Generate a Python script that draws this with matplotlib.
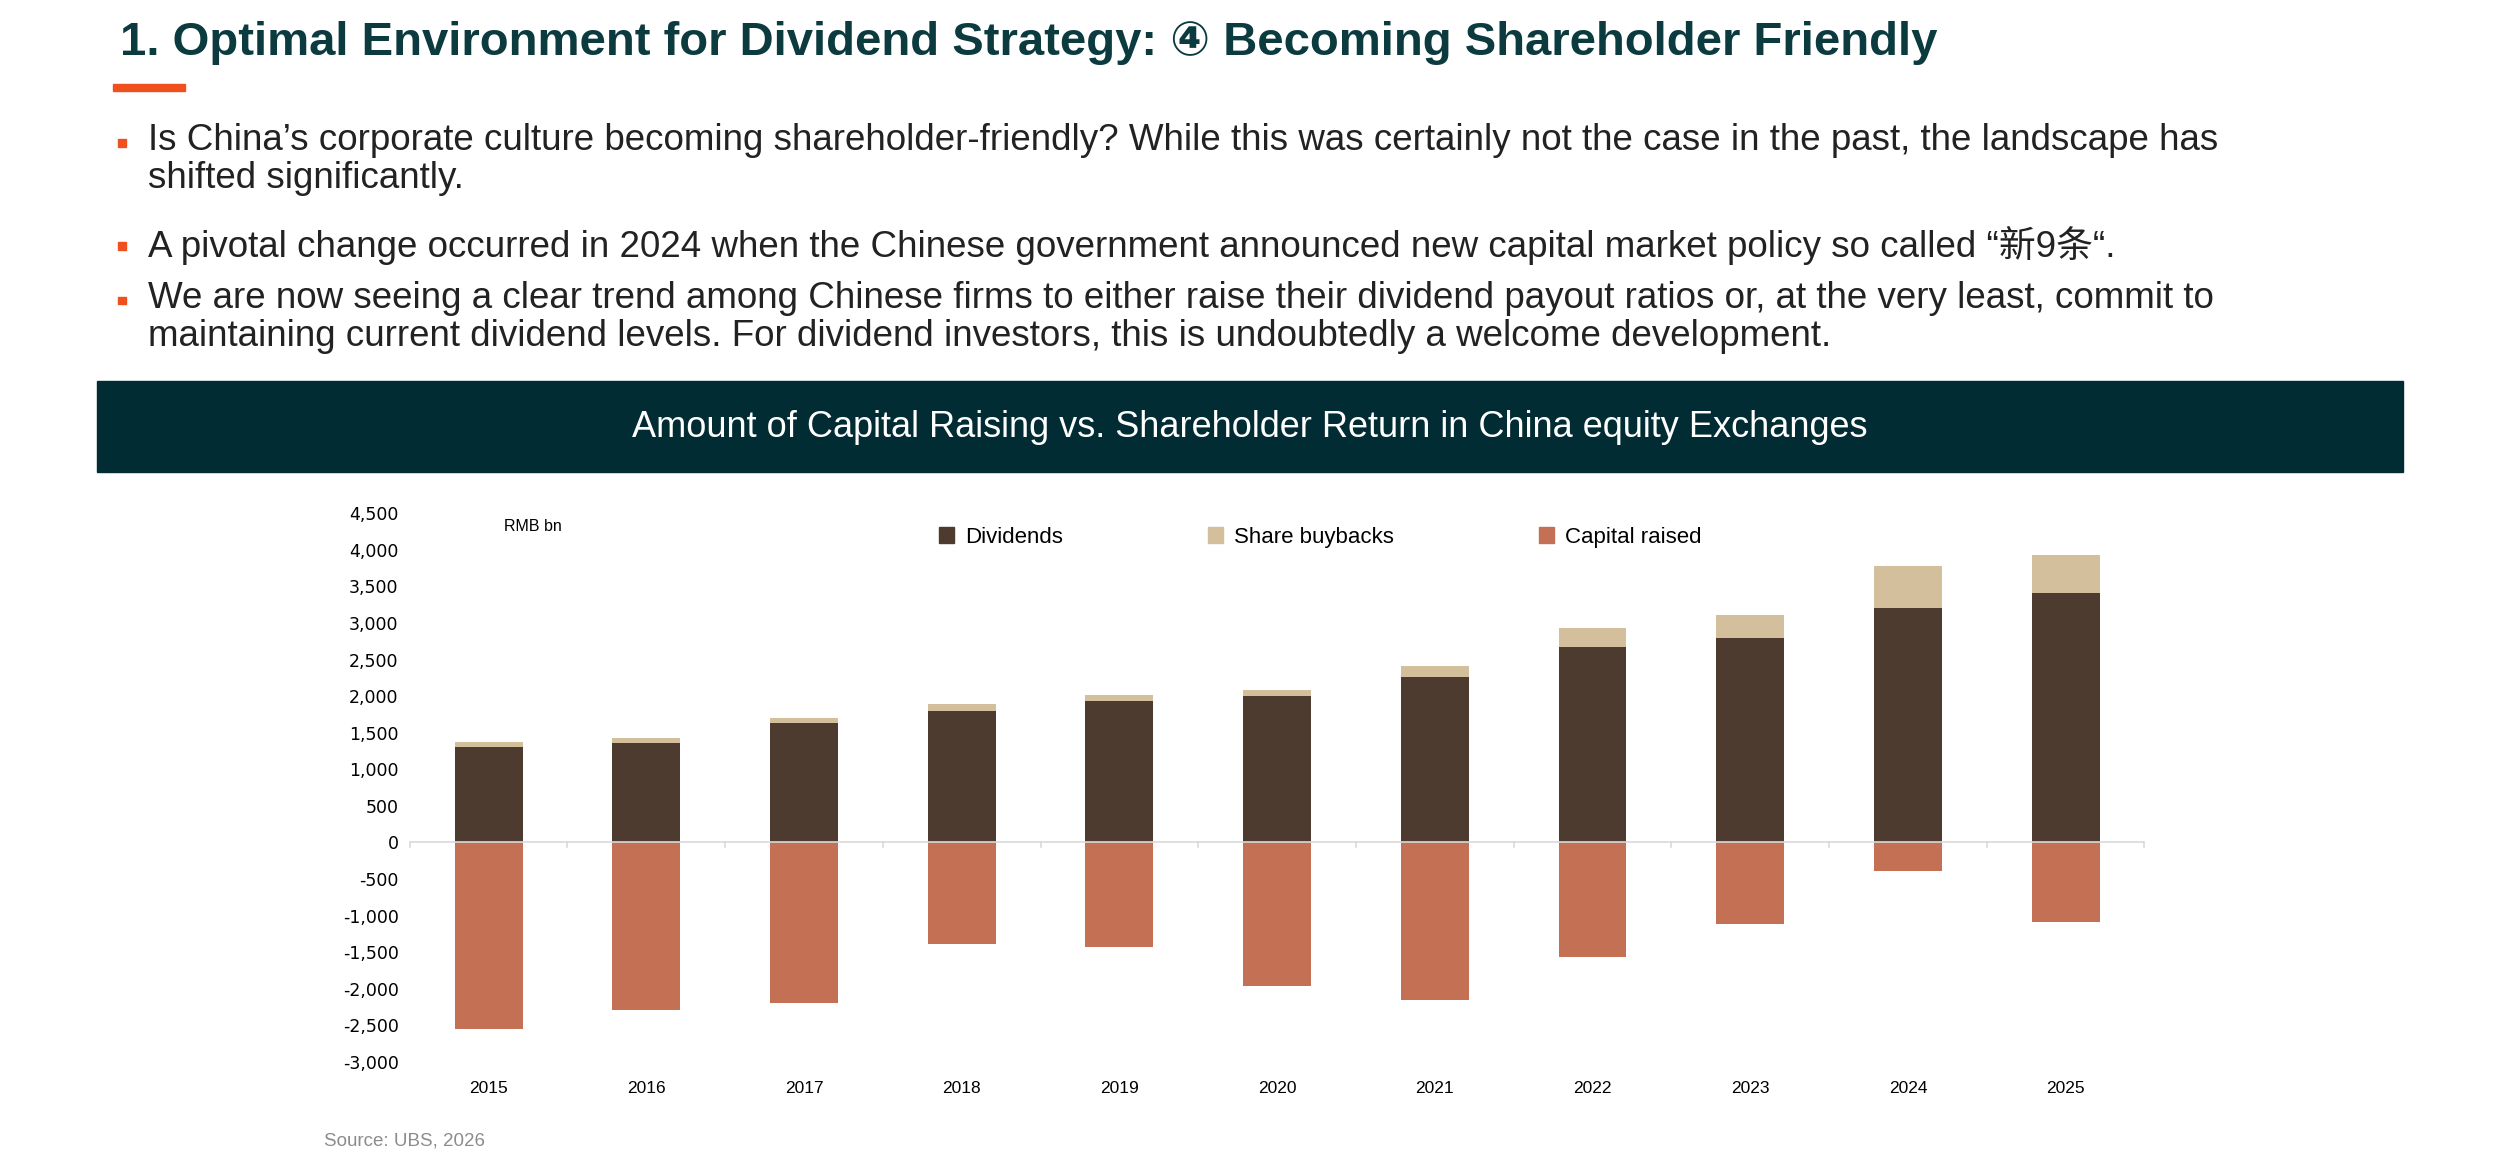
import matplotlib
matplotlib.use("Agg")
import matplotlib.pyplot as plt
from matplotlib.patches import Rectangle, Patch
from matplotlib.ticker import FuncFormatter
import numpy as np

years = ["2015","2016","2017","2018","2019","2020","2021","2022","2023","2024","2025"]
dividends = [1300, 1360, 1630, 1800, 1935, 2000, 2260, 2670, 2800, 3200, 3410]
buybacks = [70, 70, 70, 90, 85, 90, 150, 260, 310, 580, 525]
capital_raised = [-2550, -2290, -2200, -1390, -1430, -1960, -2160, -1565, -1120, -390, -1090]

FAM = ['Liberation Sans', 'DejaVu Sans', 'Noto Sans CJK SC']
W, H = 1568, 727
fig = plt.figure(figsize=(25, 11.59), dpi=100)

def fx(x): return x / W
def fy(y): return 1 - y / H

fig.text(fx(75), fy(27), "1. Optimal Environment for Dividend Strategy: ④ Becoming Shareholder Friendly",
         family=FAM, fontsize=34, fontweight='bold', color='#0B3A3F', va='center')
fig.add_artist(Rectangle((fx(71), fy(57)), fx(45), 4 / H, color='#F0501E', transform=fig.transFigure))

bullets = [
    (88, "Is China’s corporate culture becoming shareholder-friendly? While this was certainly not the case in the past, the landscape has\nshifted significantly."),
    (153, "A pivotal change occurred in 2024 when the Chinese government announced new capital market policy so called “新9条“."),
    (187, "We are now seeing a clear trend among Chinese firms to either raise their dividend payout ratios or, at the very least, commit to\nmaintaining current dividend levels. For dividend investors, this is undoubtedly a welcome development."),
]
for y, t in bullets:
    fig.add_artist(Rectangle((fx(74), fy(y + 4)), 5 / W, 5 / H, color='#F0501E', transform=fig.transFigure))
    fig.text(fx(93), fy(y - 11), t, family=FAM, fontsize=26.5, color='#222222', va='top', linespacing=1.12)

fig.add_artist(Rectangle((fx(61), fy(296)), fx(1507 - 61), (296 - 239) / H, color='#022C33', transform=fig.transFigure))
fig.text(fx(784), fy(268), "Amount of Capital Raising vs. Shareholder Return in China equity Exchanges",
         family=FAM, fontsize=26, color='white', ha='center', va='center')

ax = fig.add_axes([fx(257), fy(666), fx(1345 - 257), (666 - 322) / H])
x = np.arange(len(years))
c_div, c_bb, c_cap = '#4E3B30', '#D3BF9B', '#C47055'
ax.bar(x, dividends, width=0.43, color=c_div)
ax.bar(x, buybacks, width=0.43, bottom=dividends, color=c_bb)
ax.bar(x, capital_raised, width=0.43, color=c_cap)
ax.set_xlim(-0.5, len(years) - 0.5)
ax.set_ylim(-3000, 4500)
ax.set_yticks(range(-3000, 4501, 500))
ax.yaxis.set_major_formatter(FuncFormatter(lambda v, p: f"{int(v):,}"))
for s in ax.spines.values():
    s.set_visible(False)
ax.tick_params(axis='y', length=0, labelsize=12.5, pad=8)
ax.tick_params(axis='x', length=0)
ax.set_xticks([])
ax.axhline(0, color='#D9D9D9', lw=1.2)
for b in np.arange(-0.5, len(years), 1.0):
    ax.plot([b, b], [0, -60], color='#D9D9D9', lw=1.2, clip_on=False)
for i, yv in enumerate(years):
    ax.text(i, -3270, yv, ha='center', va='top', fontsize=12.5, family=FAM)
ax.text(0.1, 4420, "RMB bn", fontsize=11.5, family=FAM, va='top')
handles = [Patch(color=c_div), Patch(color=c_bb), Patch(color=c_cap)]
fig.legend(handles, ["Dividends", "Share buybacks", "Capital raised"], loc='center',
           bbox_to_anchor=(fx(828), fy(337)), ncol=3, frameon=False,
           columnspacing=6.5, handlelength=0.7, handleheight=0.7, handletextpad=0.5,
           prop={'family': FAM, 'size': 16})
fig.text(fx(203), fy(716), "Source: UBS, 2026", fontsize=13.5, color='#8C8C8C', family=FAM, va='center')
fig.savefig("out.png", dpi=100)
